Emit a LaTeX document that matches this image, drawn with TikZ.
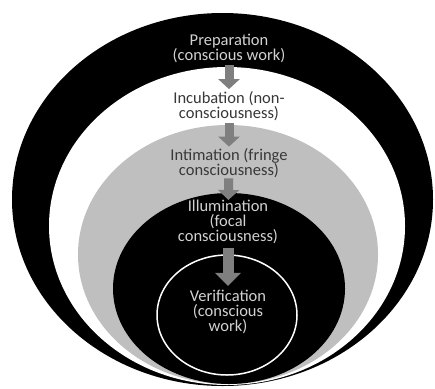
\documentclass[tikz,border=0pt]{standalone}
\usepackage{fontspec}
\setmainfont{Carlito}
\usetikzlibrary{arrows.meta}
\definecolor{ringgray}{HTML}{BFBFBF}
\definecolor{arrowgray}{HTML}{7F7F7F}
\definecolor{lighttext}{HTML}{D2D2D2}
\definecolor{darktext}{HTML}{383838}
\begin{document}
\begin{tikzpicture}[x=1pt,y=-1pt,
    stage/.style={align=center,inner sep=0pt,font=\fontsize{16.5}{15}\selectfont},
    flow/.style={draw=arrowgray,line width=9pt,-{Triangle[width=21pt,length=10pt]},
      shorten <=2pt, shorten >=2pt}]
    \useasboundingbox (0,0) rectangle (435,388);
    % nested rings, all touching near the bottom
    \fill [black] (222.5,199.5) ellipse [x radius=210.5pt, y radius=186.5pt];
    \fill [white] (227,226) ellipse [x radius=178pt, y radius=159pt];
    \fill [ringgray] (228,254.5) ellipse [x radius=150pt, y radius=129.5pt];
    \fill [black] (229,288.5) ellipse [x radius=116pt, y radius=95.5pt];
    \draw [white, line width=1.5pt] (227,315) ellipse [x radius=70pt, y radius=60pt];
    % stages
    \node [stage, text=lighttext] (prep) at (229,48.5) {Preparation\\(conscious work)};
    \node [stage, text=darktext] (incu) at (229,106) {Incubation (non-\\consciousness)};
    \node [stage, text=darktext] (inti) at (229,163.5) {Intimation (fringe\\consciousness)};
    \node [stage, text=lighttext] (illu) at (228,222) {Illumination\\(focal\\consciousness)};
    \node [stage, text=lighttext] (veri) at (228,312) {Verification\\(conscious\\work)};
    % arrows
    \draw [flow] (prep) -- (incu);
    \draw [flow] (incu) -- (inti);
    \draw [flow, shorten <=0pt, shorten >=0pt] (inti) -- (illu);
    \draw [flow, line width=11pt, -{Triangle[width=25pt,length=13pt]},
      shorten <=4pt, shorten >=4pt] (illu) -- (veri);
\end{tikzpicture}
\end{document}
